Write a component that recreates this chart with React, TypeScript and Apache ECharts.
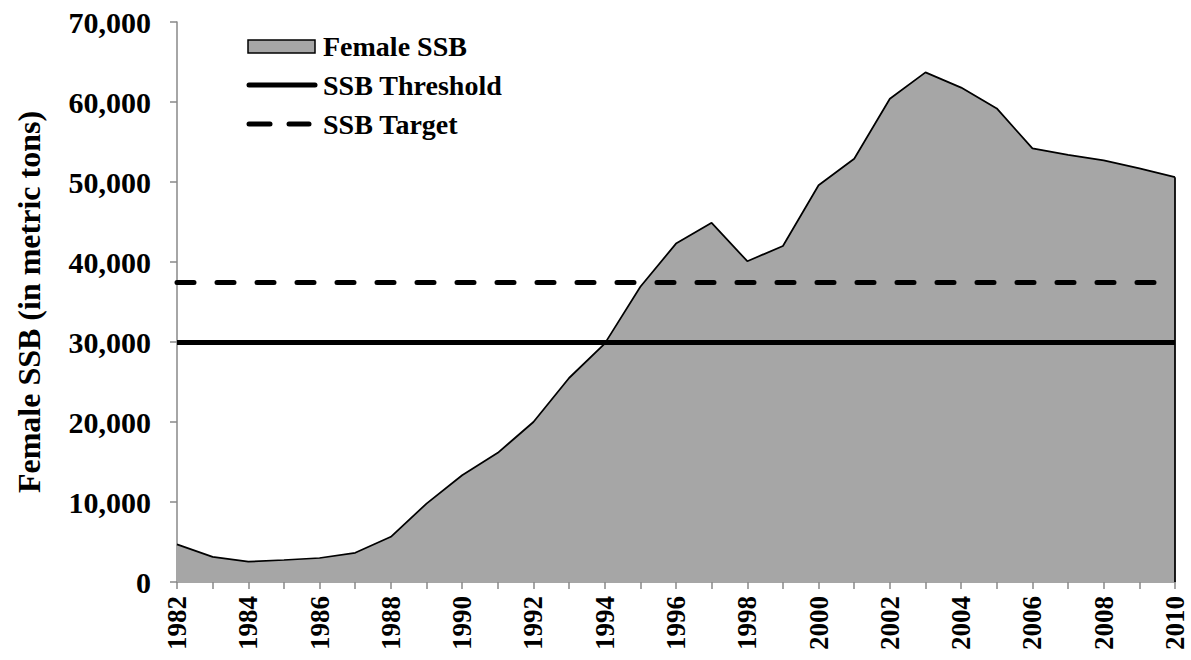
import React, { useEffect, useRef } from "react";
import * as echarts from "echarts";

const years: string[] = [
  "1982", "1983", "1984", "1985", "1986", "1987", "1988", "1989", "1990", "1991",
  "1992", "1993", "1994", "1995", "1996", "1997", "1998", "1999", "2000", "2001",
  "2002", "2003", "2004", "2005", "2006", "2007", "2008", "2009", "2010",
];
const femaleSSB: number[] = [
  4700, 3150, 2550, 2750, 3000, 3650, 5650, 9800, 13350, 16150,
  20000, 25500, 29800, 36900, 42300, 44900, 40100, 42000, 49600, 52900,
  60400, 63700, 61800, 59200, 54200, 53400, 52700, 51700, 50600,
];
const SSB_THRESHOLD = 30000;
const SSB_TARGET = 37500;
const legendLabels: string[] = ["Female SSB", "SSB Threshold", "SSB Target"];

const FONT = '"Liberation Serif", serif';

export default function App() {
  const ref = useRef<HTMLDivElement>(null);
  useEffect(() => {
    if (!ref.current) return;
    const chart = echarts.init(ref.current, null, { renderer: "svg" });
    const last = years.length - 1;
    chart.setOption({
      animation: false,
      backgroundColor: "#ffffff",
      grid: { left: 177, right: 16, top: 22, bottom: 78, containLabel: false },
      xAxis: {
        type: "category",
        data: years,
        boundaryGap: false,
        axisLine: { show: true, lineStyle: { color: "#898989", width: 1.5 } },
        axisTick: { show: true, interval: 0, length: 7, lineStyle: { color: "#898989", width: 1.5 } },
        axisLabel: {
          interval: 1,
          rotate: 90,
          margin: 14,
          color: "#000",
          fontFamily: FONT,
          fontWeight: "bold",
          fontSize: 27,
        },
        splitLine: { show: false },
      },
      yAxis: {
        type: "value",
        min: 0,
        max: 70000,
        interval: 10000,
        name: "Female SSB (in metric tons)",
        nameLocation: "middle",
        nameGap: 132,
        nameTextStyle: { color: "#000", fontFamily: FONT, fontWeight: "bold", fontSize: 32 },
        axisLine: { show: true, lineStyle: { color: "#898989", width: 1.5 } },
        axisTick: { show: true, length: 7, lineStyle: { color: "#898989", width: 1.5 } },
        axisLabel: {
          margin: 26,
          color: "#000",
          fontFamily: FONT,
          fontWeight: "bold",
          fontSize: 30,
          formatter: (v: number) => v.toLocaleString("en-US"),
        },
        splitLine: { show: false },
      },
      series: [
        {
          name: legendLabels[0],
          type: "line",
          data: femaleSSB,
          symbol: "none",
          lineStyle: { color: "#000", width: 1.75 },
          areaStyle: { color: "#A6A6A6", opacity: 1 },
          z: 2,
          markLine: {
            silent: true,
            symbol: "none",
            label: { show: false },
            data: [
              { yAxis: SSB_THRESHOLD, lineStyle: { color: "#000", width: 5, type: "solid" } },
              {
                yAxis: SSB_TARGET,
                lineStyle: { color: "#000", width: 5, type: [17, 23], cap: "round" },
              },
              [
                { coord: [years[last], 0], lineStyle: { color: "#000", width: 1.75, type: "solid" } },
                { coord: [years[last], femaleSSB[last]] },
              ],
            ],
          },
        },
      ],
      graphic: [
        {
          type: "rect",
          shape: { x: 248, y: 40, width: 67, height: 13 },
          style: { fill: "#A6A6A6", stroke: "#000", lineWidth: 1.5 },
        },
        {
          type: "text",
          x: 323,
          y: 46,
          style: {
            text: legendLabels[0],
            fill: "#000",
            font: `bold 28px ${FONT}`,
            textVerticalAlign: "middle",
          },
        },
        {
          type: "line",
          shape: { x1: 249, y1: 85, x2: 315, y2: 85 },
          style: { stroke: "#000", lineWidth: 5, lineCap: "round" },
        },
        {
          type: "text",
          x: 323,
          y: 85,
          style: {
            text: legendLabels[1],
            fill: "#000",
            font: `bold 28px ${FONT}`,
            textVerticalAlign: "middle",
          },
        },
        {
          type: "line",
          shape: { x1: 249, y1: 124, x2: 270, y2: 124 },
          style: { stroke: "#000", lineWidth: 5, lineCap: "round" },
        },
        {
          type: "line",
          shape: { x1: 289, y1: 124, x2: 309, y2: 124 },
          style: { stroke: "#000", lineWidth: 5, lineCap: "round" },
        },
        {
          type: "text",
          x: 323,
          y: 124,
          style: {
            text: legendLabels[2],
            fill: "#000",
            font: `bold 28px ${FONT}`,
            textVerticalAlign: "middle",
          },
        },
      ],
    });
    return () => chart.dispose();
  }, []);
  return (
    <div
      ref={ref}
      style={{ position: "fixed", left: 0, top: 0, width: 1191, height: 660, background: "#fff" }}
    />
  );
}
